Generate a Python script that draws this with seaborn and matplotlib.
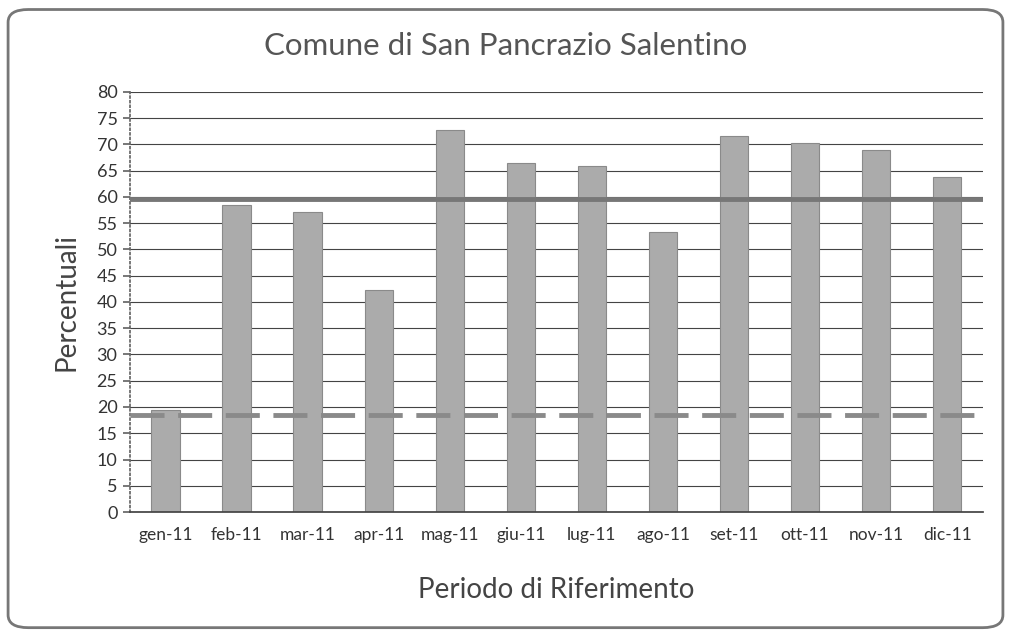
import matplotlib
matplotlib.use("Agg")
import matplotlib.pyplot as plt
import seaborn as sns
import pandas as pd
from matplotlib.patches import FancyBboxPatch

sns.set_theme(style="white")
plt.rcParams["font.family"] = ["Lato", "DejaVu Sans"]

months = ["gen-11", "feb-11", "mar-11", "apr-11", "mag-11", "giu-11",
          "lug-11", "ago-11", "set-11", "ott-11", "nov-11", "dic-11"]
percent = [19.4, 58.5, 57.1, 42.3, 72.8, 66.5, 65.9, 53.3, 71.6, 70.3, 69.0, 63.8]
solid_level = 59.6
dashed_level = 18.5

df = pd.DataFrame({"Mese": months, "Percentuale": percent})

fig = plt.figure(figsize=(10.11, 6.34), dpi=100)
ax = fig.add_axes([0.1286, 0.1924, 0.8434, 0.6626])

# rounded frame around the whole chart
frame = FancyBboxPatch((0.008, 0.01), 0.984, 0.975, boxstyle="round,pad=0,rounding_size=0.02",
                       transform=fig.transFigure, facecolor="none", edgecolor="#777777",
                       linewidth=2, zorder=0)
fig.patches.append(frame)

ax.set_axisbelow(True)
ax.yaxis.grid(True, color="#444444", linewidth=0.8)
sns.barplot(data=df, x="Mese", y="Percentuale", color="#ababab", saturation=1,
            width=0.4, edgecolor="#8a8a8a", linewidth=0.8, ax=ax, zorder=2)

ax.axhline(solid_level, color="#777777", linewidth=3.5, zorder=3)
ax.axhline(dashed_level, color="#8a8a8a", linewidth=3.5, linestyle=(0, (7, 2.8)), zorder=3)

ax.set_ylim(0, 80)
ax.set_yticks(range(0, 81, 5))
ax.set_xlim(-0.5, 11.5)

for side in ["top", "right"]:
    ax.spines[side].set_visible(False)
ax.spines["left"].set_color("#666666")
ax.spines["left"].set_linestyle(":")
ax.spines["bottom"].set_color("#444444")

ax.tick_params(axis="y", left=True, length=5, color="#666666", labelsize=13,
               labelcolor="#333333", pad=4)
ax.tick_params(axis="x", bottom=False, labelsize=12.5, labelcolor="#333333", pad=5)

ax.set_xlabel("Periodo di Riferimento", fontsize=20, color="#444444", labelpad=24)
ax.set_ylabel("Percentuali", fontsize=20, color="#444444", labelpad=12)

fig.text(0.5, 0.928, "Comune di San Pancrazio Salentino", ha="center", va="center",
         fontsize=22.5, color="#555555")

fig.savefig("out.png", dpi=100)
